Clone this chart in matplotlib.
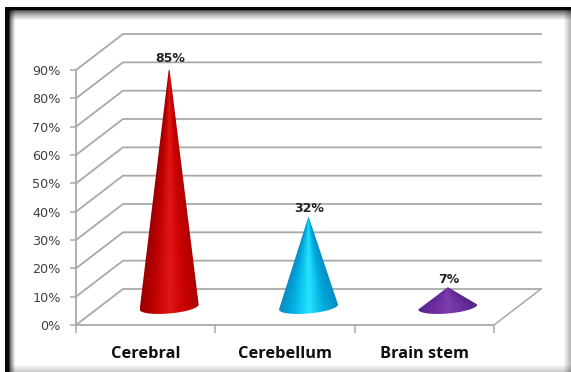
import numpy as np
import matplotlib
matplotlib.use("Agg")
import matplotlib.pyplot as plt
from matplotlib.colors import to_rgb
from matplotlib.patches import Polygon

categories = ["Cerebral", "Cerebellum", "Brain stem"]
values = [85, 32, 7]
value_labels = ["85%", "32%", "7%"]
y_ticks = [0, 10, 20, 30, 40, 50, 60, 70, 80, 90]
y_tick_labels = ["0%", "10%", "20%", "30%", "40%", "50%", "60%", "70%", "80%", "90%"]

# colour stops running across each cone, left edge to right edge
cone_colors = [
    ["#9c0000", "#bc0000", "#e21616", "#c80000", "#ac0000"],
    ["#0a88bf", "#00aee2", "#25e4ff", "#00a8dc", "#0a8cc2"],
    ["#55248a", "#6a2d9c", "#7d3bb0", "#6a2d9c", "#57268c"],
]

W, H = 571, 372
GRID = "#a9a9a9"

# 3D look: shift of the back wall, in data units (x categories, y percent)
left, right, top, bottom = 76, 494, 70, 325
px_x = (right - left) / 3
px_y = (bottom - top) / 90
DEPTH_X = 47 / px_x
DEPTH_Y = 36 / px_y


def project(x, v, depth):
    return x + depth * DEPTH_X, v + depth * DEPTH_Y


def frame_image():
    yy, xx = np.mgrid[0:H, 0:W]
    # soft shadow inside the border, fading from each edge
    fade_l = 0.25 + 0.75 * np.clip((xx - 9) / 6, 0, 1) ** 0.7
    fade_t = 0.3 + 0.7 * np.clip((yy - 10) / 10, 0, 1) ** 0.7
    fade_r = 0.72 + 0.28 * np.clip((W - 1 - xx) / 7, 0, 1)
    fade_b = 0.8 + 0.2 * np.clip((H - 1 - yy) / 7, 0, 1)
    img = fade_l * fade_t * fade_r * fade_b
    # dark line on the left and top only
    img[7:, 5:9] = 0.02
    img[7:10, 5:] = 0.02
    img[:7, :] = 1
    img[:, :5] = 1
    return img


def draw_cone(ax, x, value, stops):
    half_w = 29.5 / px_x
    half_h = 6.5 / px_y
    tilt = 2.5 / px_y
    cx, base = project(x, 0, 0.5)
    cx, tip = project(x, value, 0.5)

    # outline: apex, then the lower half of the base ellipse, tipped up on the right
    a = np.linspace(0, np.pi, 60)
    arc_x = cx - half_w * np.cos(a)
    arc_y = base - half_h * np.sin(a) - tilt * np.cos(a)
    pts = np.vstack([[cx, tip], np.column_stack([arc_x, arc_y])])
    outline = Polygon(pts, closed=True, transform=ax.transData, fc="none", ec="none")
    ax.add_patch(outline)

    # shading converges on the apex
    n = 300
    y0, y1 = base - half_h - tilt, tip
    gx = np.linspace(-1, 1, n)
    gy = np.linspace(1, 0, n)
    t = np.clip((gy * (y1 - y0) + y0 - base) / (tip - base), 0, 0.995)
    u = gx[None, :] / (1 - t[:, None])
    rgb = np.array([to_rgb(c) for c in stops])
    pos = [-1, -0.55, 0.02, 0.55, 1]
    shade = np.dstack([np.interp(u, pos, rgb[:, i]) for i in range(3)])
    im = ax.imshow(shade, extent=(cx - half_w, cx + half_w, y0, y1), aspect="auto", zorder=3, interpolation="bilinear")
    im.set_clip_path(outline)


fig = plt.figure(figsize=(W / 100, H / 100), dpi=100)
bg = fig.add_axes([0, 0, 1, 1])
bg.imshow(frame_image(), cmap="gray", vmin=0, vmax=1, aspect="auto", interpolation="bilinear")
bg.axis("off")

ax = fig.add_axes([left / W, 1 - bottom / H, (right - left) / W, (bottom - top) / H])
ax.patch.set_alpha(0)
for s in ax.spines.values():
    s.set_visible(False)

# gridlines: side wall then back wall
for v in y_ticks:
    bx, by = project(0, v, 1)
    ex, _ = project(3, v, 1)
    ax.plot([0, bx, ex], [v, by, by], color=GRID, lw=1.3, clip_on=False, zorder=1, solid_joinstyle="miter")

# floor edge on the right and the two front axes
fx, fy = project(3, 0, 1)
ax.plot([3, fx], [0, fy], color=GRID, lw=1.1, clip_on=False, zorder=1)
ax.plot([0, 3], [0, 0], color=GRID, lw=1.3, clip_on=False, zorder=2)
ax.plot([0, 0], [0, 90], color=GRID, lw=1.3, clip_on=False, zorder=2)

ax.set_xlim(0, 3)
ax.set_ylim(0, 90)
ax.set_yticks(y_ticks)
ax.set_yticklabels(y_tick_labels, fontsize=9.2, color="#404040")
ax.tick_params(axis="y", length=4, width=1.1, color=GRID, pad=7)
ax.set_xticks([0, 1, 2, 3])
ax.set_xticklabels([])
ax.tick_params(axis="x", length=6, width=1.1, color=GRID)
ax.set_xticks([0.5, 1.5, 2.5], minor=True)
ax.set_xticklabels(categories, minor=True, fontsize=11.8, fontweight="bold", color="#111111", family=["Open Sans", "DejaVu Sans"])
ax.tick_params(axis="x", which="minor", length=0, pad=15)

for i, (val, txt) in enumerate(zip(values, value_labels)):
    draw_cone(ax, i + 0.5, val, cone_colors[i])
    tx, ty = project(i + 0.5, val, 0.5)
    ax.text(tx + 1 / px_x, ty + 1.5 / px_y, txt, ha="center", va="bottom", fontsize=9, fontweight="bold", color="#222222", zorder=5)

ax.set_xlim(0, 3)
ax.set_ylim(0, 90)

fig.savefig("out.png", dpi=100)
